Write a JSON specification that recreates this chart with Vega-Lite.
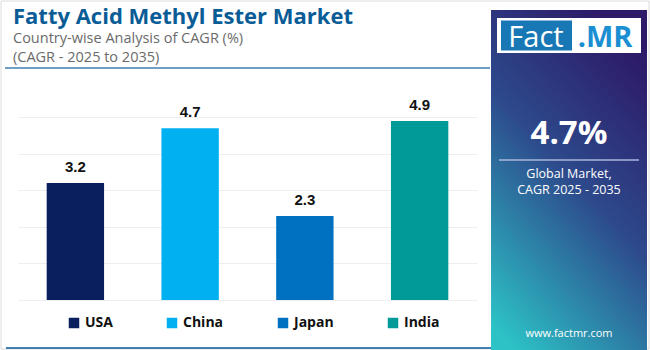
{
  "$schema": "https://vega.github.io/schema/vega-lite/v6.json",
  "background": "white",
  "autosize": {"type": "none"},
  "padding": {"left": 18, "top": 99, "right": 173, "bottom": 50},
  "width": 459,
  "height": 201,
  "config": {"view": {"stroke": null}, "font": "Open Sans"},
  "datasets": {
    "cagr": [
      {"country": "USA", "cagr": 3.2},
      {"country": "China", "cagr": 4.7},
      {"country": "Japan", "cagr": 2.3},
      {"country": "India", "cagr": 4.9}
    ],
    "one": [{"global": 0.047}]
  },
  "layer": [
    {"data": {"name": "one"}, "mark": {"type": "rect", "x": -17, "x2": 631, "y": -98, "y2": 250, "fill": null, "stroke": "#dcdcdc", "strokeWidth": 1}, "encoding": {}},
    {"data": {"name": "one"}, "mark": {"type": "text", "text": "Fatty Acid Methyl Ester Market", "x": -5, "y": -75, "align": "left", "baseline": "alphabetic", "font": "Open Sans", "fontSize": 22, "fontWeight": "bold", "color": "#0a5c96"}, "encoding": {}},
    {"data": {"name": "one"}, "mark": {"type": "text", "text": "Country-wise Analysis of CAGR (%)", "x": -5, "y": -56.5, "align": "left", "baseline": "alphabetic", "font": "Open Sans", "fontSize": 14.5, "fontWeight": "normal", "color": "#6b6b6b"}, "encoding": {}},
    {"data": {"name": "one"}, "mark": {"type": "text", "text": "(CAGR - 2025 to 2035)", "x": -5, "y": -37, "align": "left", "baseline": "alphabetic", "font": "Open Sans", "fontSize": 14.5, "fontWeight": "normal", "color": "#6b6b6b"}, "encoding": {}},
    {"data": {"name": "one"}, "mark": {"type": "rect", "x": -13, "x2": 472, "y": -31.75, "y2": -30.25, "fill": "#3f7fb3"}, "encoding": {}},
    {"data": {"name": "one"}, "mark": {"type": "rect", "x": -12, "x2": 474, "y": 248, "y2": 250, "fill": "#3f7fb3"}, "encoding": {}},
    {
      "data": {"name": "cagr"},
      "mark": {"type": "bar"},
      "encoding": {
        "x": {
          "field": "country",
          "type": "nominal",
          "sort": null,
          "axis": null,
          "scale": {"paddingInner": 0.5, "paddingOuter": 0.25}
        },
        "y": {
          "field": "cagr",
          "type": "quantitative",
          "scale": {"domain": [0, 5.5], "nice": false},
          "axis": {
            "values": [0, 1, 2, 3, 4, 5],
            "labels": false,
            "ticks": false,
            "domain": false,
            "title": null,
            "grid": true,
            "gridColor": "#eeeeee",
            "gridWidth": 1
          }
        },
        "color": {
          "field": "country",
          "type": "nominal",
          "scale": {
            "domain": ["USA", "China", "Japan", "India"],
            "range": ["#0a1f5e", "#00b0f0", "#0070c0", "#009a98"]
          },
          "legend": {
            "orient": "none",
            "legendX": 49,
            "legendY": 217,
            "direction": "horizontal",
            "title": null,
            "symbolType": "square",
            "symbolSize": 110,
            "symbolStrokeWidth": 0,
            "columnPadding": 52,
            "labelFont": "Open Sans",
            "labelFontSize": 14,
            "labelFontWeight": "bold",
            "labelColor": "#111111",
            "labelOffset": 4,
            "padding": 0
          }
        }
      }
    },
    {
      "data": {"name": "cagr"},
      "mark": {
        "type": "text",
        "baseline": "bottom",
        "dy": -8,
        "font": "Liberation Sans",
        "fontSize": 15,
        "fontWeight": "bold",
        "color": "#111111"
      },
      "encoding": {
        "x": {"field": "country", "type": "nominal", "sort": null},
        "y": {"field": "cagr", "type": "quantitative"},
        "text": {"field": "cagr", "type": "quantitative", "format": ".1f"}
      }
    },
    {
      "data": {"name": "one"},
      "mark": {
        "type": "rect", "x": 473, "x2": 629, "y": -89, "y2": 251,
        "fill": {
          "gradient": "linear",
          "x1": 0.65, "y1": 0, "x2": 0.15, "y2": 1,
          "stops": [
            {"offset": 0, "color": "#2d1b69"},
            {"offset": 0.45, "color": "#2d4a8c"},
            {"offset": 1, "color": "#2cc2c6"}
          ]
        }
      },
      "encoding": {}
    },
    {"data": {"name": "one"}, "mark": {"type": "rect", "x": 479, "x2": 623, "y": -81, "y2": -46, "fill": "white"}, "encoding": {}},
    {"data": {"name": "one"}, "mark": {"type": "rect", "x": 483, "x2": 554, "y": -78.5, "y2": -48.5, "fill": "#1877b5"}, "encoding": {}},
    {"data": {"name": "one"}, "mark": {"type": "text", "text": "Fact", "x": 518, "y": -52, "align": "center", "baseline": "alphabetic", "font": "Open Sans", "fontSize": 29, "fontWeight": "normal", "color": "white"}, "encoding": {}},
    {"data": {"name": "one"}, "mark": {"type": "text", "text": ".MR", "x": 587, "y": -52, "align": "center", "baseline": "alphabetic", "font": "Open Sans", "fontSize": 29, "fontWeight": "bold", "color": "#1b8fd2"}, "encoding": {}},
    {
      "data": {"name": "one"},
      "mark": {"type": "text", "x": 551, "y": 45, "align": "center", "baseline": "alphabetic", "font": "Open Sans", "fontSize": 33, "fontWeight": "bold", "color": "white"},
      "encoding": {"text": {"field": "global", "type": "quantitative", "format": ".1%"}}
    },
    {"data": {"name": "one"}, "mark": {"type": "rect", "x": 481, "x2": 621, "y": 60.25, "y2": 61.75, "fill": "#a9b6dc"}, "encoding": {}},
    {"data": {"name": "one"}, "mark": {"type": "text", "text": "Global Market,", "x": 551, "y": 79, "align": "center", "baseline": "alphabetic", "font": "Open Sans", "fontSize": 12.5, "fontWeight": "normal", "color": "white"}, "encoding": {}},
    {"data": {"name": "one"}, "mark": {"type": "text", "text": "CAGR 2025 - 2035", "x": 551, "y": 94.5, "align": "center", "baseline": "alphabetic", "font": "Open Sans", "fontSize": 12.5, "fontWeight": "normal", "color": "white"}, "encoding": {}},
    {"data": {"name": "one"}, "mark": {"type": "text", "text": "www.factmr.com", "x": 551, "y": 238, "align": "center", "baseline": "alphabetic", "font": "Open Sans", "fontSize": 11, "fontWeight": "normal", "color": "white"}, "encoding": {}}
  ]
}
